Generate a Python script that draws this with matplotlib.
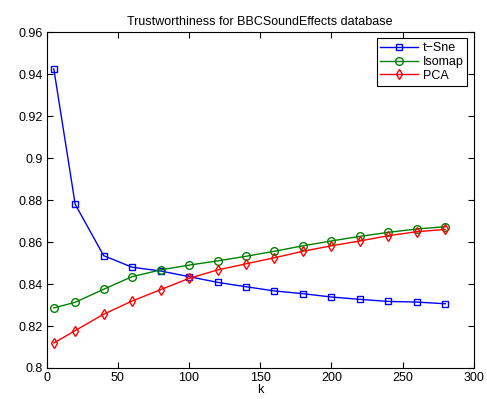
import matplotlib
matplotlib.use("Agg")
import matplotlib.pyplot as plt

k = [5, 20, 40, 60, 80, 100, 120, 140, 160, 180, 200, 220, 240, 260, 280]
tsne = [0.9424, 0.878, 0.8535, 0.848, 0.8462, 0.8435, 0.8408, 0.8387, 0.8367,
        0.8354, 0.8338, 0.8327, 0.8317, 0.8314, 0.8306]
isomap = [0.8286, 0.8313, 0.8375, 0.8435, 0.8467, 0.849, 0.851, 0.8532, 0.8556,
          0.8582, 0.8605, 0.8627, 0.8646, 0.8662, 0.8673]
pca = [0.8119, 0.8178, 0.8256, 0.8319, 0.8373, 0.8427, 0.8467, 0.8496, 0.8525,
       0.8556, 0.8582, 0.8605, 0.863, 0.8649, 0.866]

xticks = [0, 50, 100, 150, 200, 250, 300]
yticks = [0.8, 0.82, 0.84, 0.86, 0.88, 0.9, 0.92, 0.94, 0.96]
ytick_labels = ["0.8", "0.82", "0.84", "0.86", "0.88", "0.9", "0.92", "0.94", "0.96"]

plt.rcParams["font.family"] = ["Liberation Sans", "DejaVu Sans"]
plt.rcParams["font.size"] = 9

fig = plt.figure(figsize=(4.87, 3.99), dpi=100)
ax = fig.add_axes([0.0959, 0.0777, 0.8768, 0.842])

ms = 5
ax.plot(k, tsne, color=(0, 0, 1), marker="s", mfc="none", ms=ms, lw=1, mew=1, label="t\u2212Sne")
ax.plot(k, isomap, color=(0, 0.5, 0), marker="o", mfc="none", ms=ms + 0.5, lw=1, mew=1, label="Isomap")
ax.plot(k, pca, color=(1, 0, 0), marker="d", mfc="none", ms=ms + 0.5, lw=1, mew=1, label="PCA")

ax.set_xlim(0, 300)
ax.set_ylim(0.8, 0.96)
ax.set_xticks(xticks)
ax.set_yticks(yticks)
ax.set_yticklabels(ytick_labels)
ax.tick_params(direction="in", top=True, right=True, length=4, width=0.8, pad=3, labelsize=9)
for s in ax.spines.values():
    s.set_linewidth(0.8)

ax.set_xlabel("k", labelpad=0)
ax.set_title("Trustworthiness for BBCSoundEffects database", fontsize=9, pad=5)

leg = ax.legend(loc="upper right", fancybox=False, framealpha=1, edgecolor="black",
                borderaxespad=0.5, handlelength=3.0, labelspacing=0.15, borderpad=0.3,
                handletextpad=0.4, fontsize=9)
leg.get_frame().set_linewidth(0.8)

fig.savefig("out.png", dpi=100)
